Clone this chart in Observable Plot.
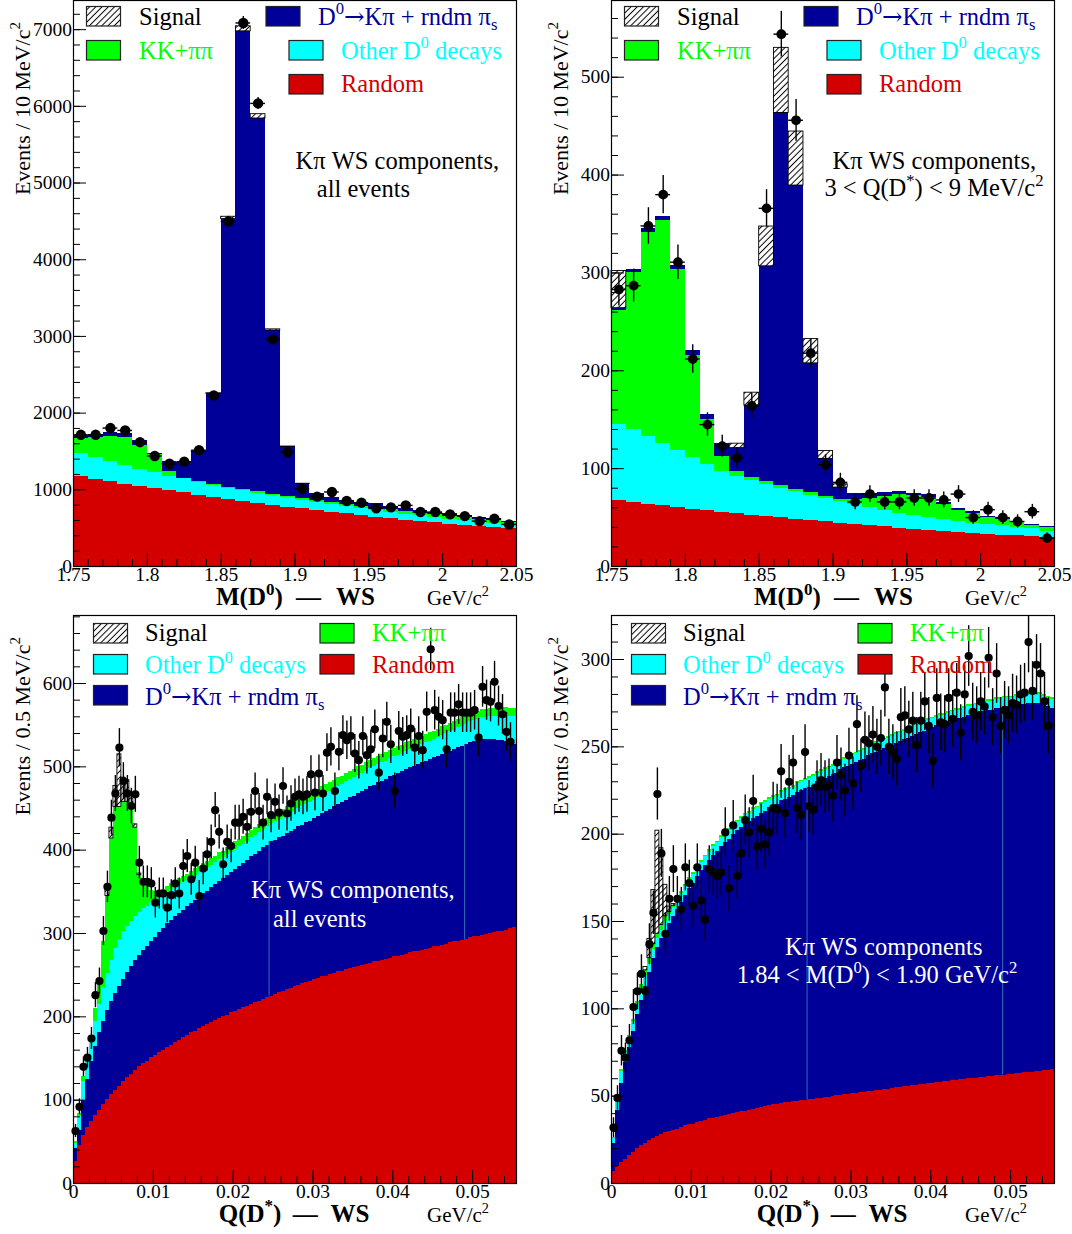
<!DOCTYPE html>
<html>
<head>
<meta charset="utf-8">
<script src="https://cdn.jsdelivr.net/npm/d3@7"></script>
<script src="https://cdn.jsdelivr.net/npm/@observablehq/plot@0.6"></script>
<style>
  html, body { margin: 0; padding: 0; background: #fff; }
  #root { position: relative; width: 1072px; height: 1234px; overflow: hidden; background: #fff;
          font-family: "Liberation Serif", "Times New Roman", serif; }
  #root > svg { position: absolute; }
</style>
</head>
<body>
<div id="root"></div>
<script>
// ---------------- DATA ----------------
// Top row: M(D0) in 10 MeV/c^2 bins (low edges, GeV/c^2)
const massBinLow = [1.75,1.76,1.77,1.78,1.79,1.80,1.81,1.82,1.83,1.84,1.85,1.86,1.87,1.88,1.89,
                    1.90,1.91,1.92,1.93,1.94,1.95,1.96,1.97,1.98,1.99,2.00,2.01,2.02,2.03,2.04];
const massBinWidth = 0.01;
const massTicks = [1.75, 1.8, 1.85, 1.9, 1.95, 2, 2.05];

// Top-left: all events
const tlRandom  = [1170,1139,1104,1069,1038,1012,986,959,929,902,876,850,823,797,775,753,731,710,688,666,644,622,604,587,569,552,539,526,508,495];
const tlOther   = [297,285,263,245,232,210,192,184,170,158,145,140,132,123,119,110,101,96,92,92,87,83,79,74,71,66,57,52,53,48];
const tlKKpipi  = [206,258,333,372,302,241,66,5,14,13,13,13,17,17,17,22,27,26,26,30,31,35,35,35,35,35,39,35,35,35];
const tlKpiRndm = [35,35,43,49,66,13,123,210,385,1178,3496,5975,4869,2138,648,192,91,62,57,44,53,48,44,31,30,35,31,31,26,9];
const tlSignal  = [0,0,0,0,0,0,0,0,3,8,30,66,57,17,5,2,0,0,0,0,0,0,0,0,0,0,0,0,0,0];
const tlData    = [1717,1717,1805,1774,1621,1441,1340,1367,1516,2229,4499,7087,6038,2961,1489,1012,911,972,854,832,758,771,797,710,710,679,657,591,622,548];
const tlYTicks  = [0,1000,2000,3000,4000,5000,6000,7000];

// Top-right: 3 < Q(D*) < 9 MeV/c^2
const trRandom  = [67,65.5,63.8,62,60.3,58.6,56.9,55.5,54.1,52.4,51,49.7,48.3,46.9,45.5,44.1,43.1,41.7,40.7,39.3,38.3,37.2,36.2,35.2,34.1,33.1,32.1,31.4,30.3,29.7];
const trOther   = [78,74.2,69,64.2,58.3,53.1,47.1,41.5,37.9,35.6,33,30.3,28.2,26.1,24.5,22.4,19.9,18.3,16.5,15.2,14.1,12.8,11.4,11,10,10,9.6,8.9,8.7,6.5];
const trKKpipi  = [117,160.3,208.2,227.3,184.4,103.8,46.3,15,5,3,2.5,2.5,2.5,2.5,2,2,5,9.5,14.3,19,20.4,20.3,16.2,11.4,10.4,6.9,5.9,4.2,3.1,3.8];
const trKpiRndm = [2,3,4.5,4.1,5,5.5,4.7,14,24,73.5,220.3,381,310.3,132.1,38,12.2,6.1,4.6,3.7,3.1,2,2.8,1.4,1.7,1.4,1.4,1.4,1,1,1];
const trSignal  = [38,0,0,0,0,0,0,0,4.5,13.1,40.6,66.5,55.2,24.8,8,3.3,0.4,0.4,0.3,0.4,0,0,0,0,0,0,0,0,0,0];
const trData    = [283,287,348,380,311,212,145,123,111,164,366,544,456,218,104,86,66,74,66,66,70,70,68,74,50,58,50,46,56,29];
const trYTicks  = [0,100,200,300,400,500];

// Bottom row: Q(D*) in 0.5 MeV/c^2 bins
const qBinWidth = 0.0005;
const qNBins = 111;
const qTicks = [0, 0.01, 0.02, 0.03, 0.04, 0.05];
const qArtifactX = [0.0245, 0.049];

// Bottom-left: all events
const blRandom = [26,46,58,67,75,82,88,95,101,107,
  112,117,122,127,131,136,140,144,147,151,
  154,157,160,163,166,169,172,175,178,181,
  183,186,188,191,193,196,198,200,202,205,
  207,209,211,213,215,217,219,221,223,225,
  227,229,231,233,234,236,238,240,241,243,
  245,246,248,249,251,252,254,255,257,258,
  259,261,262,263,264,266,267,268,269,270,
  272,273,274,275,277,278,279,280,281,282,
  284,285,286,287,289,290,291,292,293,295,
  296,297,298,299,300,301,302,303,304,306,
  307];
const blKpiRndm = [16,18,42,58,71,83,93,100,107,111,
  116,120,123,126,130,132,134,136,138,139,
  141,144,146,149,150,151,152,153,154,155,
  157,158,160,160,162,163,165,166,168,168,
  170,171,173,175,177,178,180,182,183,185,
  185,186,186,187,189,189,190,190,192,192,
  193,195,196,198,198,200,201,202,203,205,
  206,207,208,210,212,212,214,215,216,218,
  218,219,220,222,222,223,224,225,226,227,
  227,228,229,230,230,231,232,233,234,234,
  235,235,235,234,233,232,230,229,227,223,
  220];
const blOther = [6,16,22,23,24,30,34,40,44,50,
  54,56,57,56,54,53,51,50,48,47,
  45,43,40,38,37,36,35,34,32,31,
  30,29,28,28,27,26,26,25,25,24,
  24,24,23,23,23,23,22,22,22,22,
  22,22,22,22,22,22,22,22,22,22,
  22,22,22,22,22,22,22,22,22,22,
  22,22,22,22,22,22,22,22,22,22,
  22,22,22,22,22,22,22,22,22,22,
  22,22,23,23,23,23,24,24,24,25,
  25,25,26,26,27,27,28,29,30,31,
  33];
const blKKpipi = [2,4,6,6,8,15,25,55,93,146,
  170,159,156,149,137,106,45,32,24,15,
  10,8,7,7,7,7,7,7,7,7,
  8,8,8,8,8,8,8,8,8,8,
  9,9,9,9,9,9,10,10,10,10,
  10,10,10,10,10,10,10,10,10,10,
  10,10,10,10,10,10,10,10,10,10,
  10,10,10,10,10,10,10,10,10,10,
  10,10,10,10,10,10,10,10,10,10,
  10,10,10,10,10,10,10,10,10,10,
  10,10,10,10,10,10,10,10,10,10,
  10];
const blSignal = [0,0,0,0,0,0,0,0,7,13,
  25,63,29,26,10,4,2,0,0,0,
  0,0,0,0,0,0,0,0,0,0, 0,0,0,0,0,0,0,0,0,0, 0,0,0,0,0,0,0,0,0,0,
  0,0,0,0,0,0,0,0,0,0, 0,0,0,0,0,0,0,0,0,0, 0,0,0,0,0,0,0,0,0,0,
  0,0,0,0,0,0,0,0,0,0, 0,0,0,0,0,0,0,0,0,0, 0,0,0,0,0,0,0,0,0,0,
  0];
const blData = [63,92,140,151,174,226,243,303,356,439,
  468,523,483,468,453,467,385,362,362,360,
  337,348,348,331,346,360,348,381,393,365,
  385,345,378,395,410,448,422,383,410,405,
  433,433,440,428,446,471,447,433,464,442,
  458,445,477,444,456,464,467,464,467,491,
  469,492,468,517,524,471,518,538,532,537,
  516,508,537,514,521,545,493,534,554,527,
  471,543,536,538,546,523,537,520,566,641,
  568,560,556,521,565,565,575,565,565,565,
  568,535,596,580,578,602,573,563,542,530,
  null];
const blYTicks = [0,100,200,300,400,500,600];

// Bottom-right: 1.84 < M(D0) < 1.90 GeV/c^2
const brRandom = [7,10,12,14,16,18,20,21.5,23,24.5,
  26,27,28,29,30,30.5,31,32,33,33.5,
  34,35,35.5,36,37,37.5,38,38.5,39,39.5,
  40,40.5,41,41.5,42,42.5,43,43.5,44,44.5,
  45,45.5,45.8,46.1,46.4,46.7,47,47.3,47.6,48,
  48.3,48.6,48.9,49.2,49.5,49.8,50.1,50.4,50.8,51.1,
  51.4,51.7,52,52.3,52.6,52.9,53.2,53.5,53.8,54.1,
  54.4,54.7,55,55.3,55.6,55.9,56.2,56.5,56.8,57.1,
  57.4,57.6,57.9,58.2,58.5,58.8,59,59.3,59.6,59.9,
  60.1,60.4,60.6,60.9,61.1,61.4,61.6,61.9,62.1,62.4,
  62.6,62.9,63.1,63.3,63.6,63.8,64,64.3,64.5,64.8,
  65];
const brKpiRndm = [16,32,45,55,62,69,77,83.5,90,96.5,
  103,108,112,116,119,122.5,126,129,132,135.5,
  138,141,143.5,146,148,150.5,152,154.5,156,157.5,
  160,161.5,163,164.5,165,166.5,167,168.5,169,170.5,
  171,171.5,173.2,173.9,174.6,175.3,177,177.7,178.4,179,
  179.7,181.4,182.1,182.8,183.5,184.2,184.9,186.6,187.2,187.9,
  188.6,189.3,190,190.7,192.4,193.1,193.8,194.5,195.2,195.9,
  196.6,197.3,198,198.7,199.4,200.1,200.8,201.5,202.2,202.9,
  203.6,204.4,205.1,204.8,205.5,206.2,207,206.7,207.4,208.1,
  207.9,208.6,209.4,209.1,209.9,209.6,210.4,210.1,210.9,210.6,
  210.4,211.1,210.9,210.7,211.4,211.2,211,210.7,209.5,208.2,
  207];
const brOther = [3,6,7,6,6,6,6,6,6,5,
  5,5,5,5,5,5,5,5,5,5, 5,5,5,5,5,5,5,5,5,5, 5,5,5,5,5,5,5,5,5,5,
  5,5,5,5,5,5,5,5,5,5, 5,5,5,5,5,5,5,5,5,5, 5,5,5,5,5,5,5,5,5,5,
  5,5,5,5,5,5,5,5,5,5, 5,5,5,5,5,5,5,5,5,5, 5,5,5,5,5,5,5,5,5,5,
  5,5,5,5,5,5,5,5,5,5,
  5];
const brKKpipi = [0.5,0.5,1,1,1,1,1,3,3,3,
  3,3,3,3,1.5,1,1,1,1,1, 1,1,1,1,1,1,1,1,1,1, 1,1,1,1,1,1,1,1,1,1,
  1,1,1,1,1,1,1,1,1,1, 1,1,1,1,1,1,1,1,1,1, 1,1,1,1,1,1,1,1,1,1,
  1,1,1,1,1,1,1,1,1,1, 1,1,1,1,1,1,1,1,1,1, 1,1,1,1,1,1,1,1,1,1,
  1,1,1,1,1,1,1,1,1,1,
  1];
const brSignal = [0,0,0,0,0,0,0,0,2,11,
  31,59,44,18,3,1,0,0,0,0, 0,0,0,0,0,0,0,0,0,0, 0,0,0,0,0,0,0,0,0,0,
  0,0,0,0,0,0,0,0,0,0, 0,0,0,0,0,0,0,0,0,0, 0,0,0,0,0,0,0,0,0,0,
  0,0,0,0,0,0,0,0,0,0, 0,0,0,0,0,0,0,0,0,0, 0,0,0,0,0,0,0,0,0,0,
  0,0,0,0,0,0,0,0,0,0,
  0];
const brData = [32,49,76,72,82,101,110,120,110,137,
  155,223,189,143,163,180,163,157,181,172,
  159,181,162,151,180,178,176,178,201,169,
  205,176,189,208,201,219,193,203,194,201,
  215,214,236,212,230,241,215,211,247,216,
  214,227,231,227,228,222,241,234,225,245,
  229,263,239,254,252,257,250,255,284,250,
  247,243,267,268,260,265,251,265,276,262,
  242,278,264,263,278,266,281,258,280,302,
  270,268,276,273,301,267,292,262,271,268,
  275,274,280,281,310,282,297,292,276,262,
  null];
const brYTicks = [0,50,100,150,200,250,300];

// ---------------- STYLE ----------------
const COLORS = { random: "#d40000", kpi: "#000099", other: "#00ffff", kkpipi: "#00ff00", signal: "url(#hatch)" };
const TEXTCOLORS = { random: "#d40000", kpi: "#000099", other: "#00ffff", kkpipi: "#00ff00", signal: "#000000" };
const ARROWFONT = "'DejaVu Serif', 'DejaVu Sans', serif";
const LEGEND_LABELS = {
  signal: [["Signal"]],
  kpi: [["D"], ["0", "sup"], ["\u2192", null, ARROWFONT], ["K\u03c0 + rndm \u03c0"], ["s", "sub"]],
  kkpipi: [["KK+\u03c0\u03c0"]],
  other: [["Other D"], ["0", "sup"], [" decays"]],
  random: [["Random"]]
};
const FONT = "'Liberation Serif', 'Times New Roman', serif";

const root = document.getElementById("root");

// overlay svg (defs + texts)
const ov = d3.select(root).append("svg")
  .attr("width", 1072).attr("height", 1234)
  .style("left", "0px").style("top", "0px").style("z-index", 5)
  .style("pointer-events", "none")
  .attr("font-family", FONT);
const defs = ov.append("defs");
const hs = 4.4;
const pat = defs.append("pattern").attr("id", "hatch").attr("patternUnits", "userSpaceOnUse")
  .attr("width", hs).attr("height", hs).attr("patternTransform", "rotate(45)");
pat.append("rect").attr("width", hs).attr("height", hs).attr("fill", "white");
pat.append("line").attr("x1", hs / 2).attr("y1", 0).attr("x2", hs / 2).attr("y2", hs)
  .attr("stroke", "black").attr("stroke-width", 1);

function richText(x, y, parts, { size = 24.5, fill = "black", weight = "normal", anchor = "start", rotate = 0 } = {}) {
  const t = ov.append("text").attr("x", x).attr("y", y).attr("font-size", size)
    .attr("fill", fill).attr("font-weight", weight).attr("text-anchor", anchor)
    .style("white-space", "pre");
  if (rotate) t.attr("transform", `rotate(${rotate},${x},${y})`);
  let shift = 0;
  for (const [s, kind, family] of parts) {
    let target = 0, fs = size;
    if (kind === "sup") { target = -0.42 * size; fs = 0.68 * size; }
    if (kind === "sub") { target = 0.24 * size; fs = 0.68 * size; }
    const sp = t.append("tspan").attr("font-size", fs).attr("dy", target - shift).text(s);
    if (family) sp.attr("font-family", family);
    shift = target;
  }
  return t;
}

function stackRows(lows, width, comps, order) {
  const rows = [];
  lows.forEach((x1, i) => {
    let base = 0;
    for (const k of order) {
      const v = comps[k][i];
      rows.push({ k, i, x1, x2: x1 + width, y1: base, y2: base + v, v });
      base += v;
    }
  });
  return rows;
}

function makePanel(cfg) {
  const { lows, width, comps, order, data, xDomain, yDomain, xMajor, xMinor, yMajor, yMinor, r, artifacts, height } = cfg;
  for (const k of order) if (comps[k].length !== lows.length) console.warn("length mismatch", k, comps[k].length, lows.length);
  if (data.length !== lows.length) console.warn("data length mismatch", data.length, lows.length);
  const rows = stackRows(lows, width, comps, order);
  const pts = [];
  data.forEach((v, i) => {
    if (v == null) return;
    const e = Math.sqrt(v);
    pts.push({ x: lows[i] + width / 2, x1: lows[i], x2: lows[i] + width, v, lo: v - e, hi: v + e });
  });
  const marks = [];
  for (const k of order) {
    marks.push(Plot.rect(rows.filter(d => d.k === k && d.v > 0),
      { x1: "x1", x2: "x2", y1: "y1", y2: "y2", fill: COLORS[k], shapeRendering: "crispEdges" }));
  }
  marks.push(Plot.rect(rows.filter(d => d.k === "signal" && d.v >= 1),
    { x1: "x1", x2: "x2", y1: "y1", y2: "y2", fill: "none", stroke: "black", strokeWidth: 0.9 }));
  if (artifacts) {
    const art = artifacts.map(x => {
      const i = Math.floor(x / width);
      return { x, y1: comps.random[i], y2: comps.random[i] + comps.kpi[i] };
    });
    marks.push(Plot.ruleX(art, { x: "x", y1: "y1", y2: "y2", stroke: "#2f6db5", strokeWidth: 1 }));
  }
  marks.push(Plot.frame({ stroke: "black", strokeWidth: 1.2 }));
  marks.push(Plot.ruleX(pts, { x: "x", y1: "lo", y2: "hi", stroke: "black", strokeWidth: 1.4, clip: true }));
  marks.push(Plot.ruleY(pts, { y: "v", x1: "x1", x2: "x2", stroke: "black", strokeWidth: 1.4 }));
  marks.push(Plot.dot(pts, { x: "x", y: "v", r, fill: "black" }));
  const axText = { fontFamily: "Liberation Serif", fontSize: 19.5, fontVariant: "normal" };
  marks.push(Plot.axisX(xMinor, { tickSize: -7, tickFormat: () => "", label: null }));
  marks.push(Plot.axisX(xMajor, { tickSize: -13, tickPadding: 14, tickFormat: d => String(d), label: null, ...axText }));
  marks.push(Plot.axisY(yMinor, { tickSize: -7, tickFormat: () => "", label: null }));
  marks.push(Plot.axisY(yMajor, { tickSize: -13, tickPadding: 14.5, tickFormat: d => String(d), label: null, ...axText }));
  return Plot.plot({
    width: 536, height,
    marginLeft: 73, marginRight: 20, marginTop: 1, marginBottom: 50,
    x: { domain: xDomain, label: null },
    y: { domain: yDomain, label: null },
    style: { fontFamily: FONT, fontSize: "19.5px", background: "transparent", overflow: "visible", color: "black" },
    marks
  });
}

function place(svg, left, top) {
  svg.style.position = "absolute";
  svg.style.left = left + "px";
  svg.style.top = top + "px";
  root.insertBefore(svg, root.firstChild);
}

const topOrder = ["random", "other", "kkpipi", "kpi", "signal"];
const botOrder = ["random", "kpi", "other", "kkpipi", "signal"];
const massMinor = massBinLow.concat([2.05]);
const qLows = d3.range(qNBins).map(i => +(i * qBinWidth).toFixed(5));
const qMinor = d3.range(0, 28).map(i => +(i * 0.002).toFixed(4));

// Top-left
place(makePanel({
  lows: massBinLow, width: massBinWidth, order: topOrder,
  comps: { random: tlRandom, other: tlOther, kkpipi: tlKKpipi, kpi: tlKpiRndm, signal: tlSignal },
  data: tlData, xDomain: [1.75, 2.05], yDomain: [0, 7380],
  xMajor: massTicks, xMinor: massMinor, yMajor: tlYTicks, yMinor: d3.range(0, 7380, 200),
  r: 5.2, height: 617
}), 0, -1);

// Top-right
place(makePanel({
  lows: massBinLow, width: massBinWidth, order: topOrder,
  comps: { random: trRandom, other: trOther, kkpipi: trKKpipi, kpi: trKpiRndm, signal: trSignal },
  data: trData, xDomain: [1.75, 2.05], yDomain: [0, 578.4],
  xMajor: massTicks, xMinor: massMinor, yMajor: trYTicks, yMinor: d3.range(0, 578, 20),
  r: 4.9, height: 617
}), 538, -1);

// Bottom-left
place(makePanel({
  lows: qLows, width: qBinWidth, order: botOrder,
  comps: { random: blRandom, kpi: blKpiRndm, other: blOther, kkpipi: blKKpipi, signal: blSignal },
  data: blData, xDomain: [0, 0.0555], yDomain: [0, 681.6],
  xMajor: qTicks, xMinor: qMinor, yMajor: blYTicks, yMinor: d3.range(0, 681, 20),
  r: 4.1, artifacts: qArtifactX, height: 619
}), 0, 614);

// Bottom-right
place(makePanel({
  lows: qLows, width: qBinWidth, order: botOrder,
  comps: { random: brRandom, kpi: brKpiRndm, other: brOther, kkpipi: brKKpipi, signal: brSignal },
  data: brData, xDomain: [0, 0.0555], yDomain: [0, 325.2],
  xMajor: qTicks, xMinor: qMinor, yMajor: brYTicks, yMinor: d3.range(0, 325, 10),
  r: 4.1, artifacts: qArtifactX, height: 619
}), 538, 614);

// ---------------- TEXT / LEGENDS ----------------
function legend(ox, oy, items) {
  for (const it of items) {
    ov.append("rect").attr("x", ox + it.sx).attr("y", oy + it.sy).attr("width", 34).attr("height", 19.5)
      .attr("fill", COLORS[it.k]).attr("stroke", "#222").attr("stroke-width", 1.2);
    richText(ox + it.tx, oy + it.ty, LEGEND_LABELS[it.k], { size: 24.5, fill: TEXTCOLORS[it.k] });
  }
}
const topLegend = [
  { k: "signal", sx: 86.5, sy: 6.5, tx: 139, ty: 24.5 },
  { k: "kpi", sx: 266, sy: 6.5, tx: 318, ty: 24.5 },
  { k: "kkpipi", sx: 86.5, sy: 40.5, tx: 139, ty: 58.5 },
  { k: "other", sx: 289, sy: 40.5, tx: 341, ty: 58.5 },
  { k: "random", sx: 289, sy: 74.5, tx: 341, ty: 92 }
];
const botLegend = [
  { k: "signal", sx: 93.5, sy: 8.5, tx: 145, ty: 26 },
  { k: "kkpipi", sx: 320, sy: 8.5, tx: 372, ty: 26 },
  { k: "other", sx: 93.5, sy: 39.5, tx: 145, ty: 58 },
  { k: "random", sx: 320, sy: 39.5, tx: 372, ty: 58 },
  { k: "kpi", sx: 93.5, sy: 70.5, tx: 145, ty: 89.5 }
];
legend(0, 0, topLegend);
legend(538, 0, topLegend);
legend(0, 615, botLegend);
legend(538, 615, botLegend);

// axis titles
for (const ox of [0, 538]) {
  richText(ox + 29.5, 22, [["Events / 10 MeV/c"], ["2", "sup"]], { size: 22, anchor: "end", rotate: -90 });
  richText(ox + 29.5, 637, [["Events / 0.5 MeV/c"], ["2", "sup"]], { size: 22, anchor: "end", rotate: -90 });
  richText(ox + 216, 605, [["M(D"], ["0", "sup"], [")"]], { size: 25, weight: "bold" });
  richText(ox + 296, 605, [["\u2014"]], { size: 25, weight: "bold" });
  richText(ox + 336, 605, [["WS"]], { size: 25, weight: "bold" });
  richText(ox + 427, 605, [["GeV/c"], ["2", "sup"]], { size: 21 });
  richText(ox + 218.7, 1221.5, [["Q(D"], ["*", "sup"], [")"]], { size: 25, weight: "bold" });
  richText(ox + 292.7, 1221.5, [["\u2014"]], { size: 25, weight: "bold" });
  richText(ox + 330.6, 1221.5, [["WS"]], { size: 25, weight: "bold" });
  richText(ox + 427, 1221.5, [["GeV/c"], ["2", "sup"]], { size: 21 });
}

// annotations
richText(295.5, 169, [["K\u03c0 WS components,"]], { size: 24.5 });
richText(316.8, 197, [["all events"]], { size: 24.5 });
richText(538 + 294.5, 169, [["K\u03c0 WS components,"]], { size: 24.5 });
richText(538 + 286.4, 196, [["3 < Q(D"], ["*", "sup"], [") < 9 MeV/c"], ["2", "sup"]], { size: 24.5 });
richText(251, 615 + 283, [["K\u03c0 WS components,"]], { size: 24.5, fill: "white" });
richText(273, 615 + 311.5, [["all events"]], { size: 24.5, fill: "white" });
richText(538 + 247, 615 + 340, [["K\u03c0 WS components"]], { size: 24.5, fill: "white" });
richText(538 + 198.8, 615 + 368, [["1.84 < M(D"], ["0", "sup"], [") < 1.90 GeV/c"], ["2", "sup"]], { size: 24.5, fill: "white" });
</script>
</body>
</html>
